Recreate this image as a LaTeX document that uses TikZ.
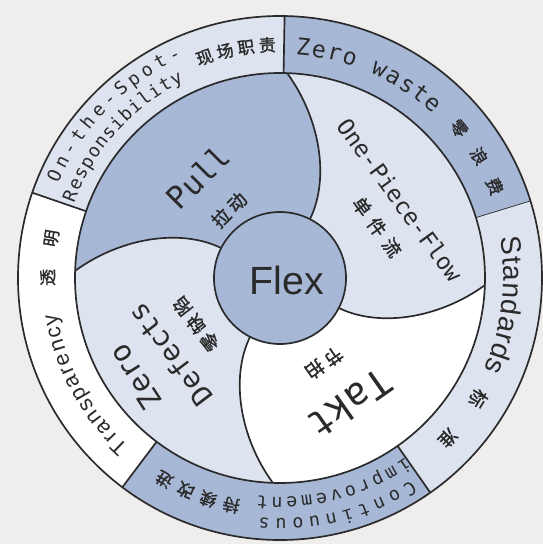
\documentclass[tikz,border=0pt]{standalone}
\usepackage{fontspec}
\setmainfont{Liberation Sans}
\newfontfamily\handfont{DejaVu Sans Mono}
\newfontfamily\cjk[FakeBold=1.5]{Noto Sans CJK SC}
\usepackage{tikz}
\usetikzlibrary{decorations.text}
\definecolor{midblue}{HTML}{A7B7D6}
\definecolor{paleblue}{HTML}{DDE3EF}
\definecolor{bggray}{HTML}{EFEEEC}
\definecolor{inkline}{HTML}{2A2A2A}
\newcommand{\setsz}[1]{\fontsize{#1}{#1}\selectfont}

\begin{document}
\begin{tikzpicture}[x=0.025cm, y=0.025cm,
  rim/.style={draw=inkline, line width=1.2pt},
  wtext/.style={text=inkline, inner sep=0pt},
  arctext/.style={decorate, decoration={text along path, text align={fit to path}, text color=inkline}}]
  \useasboundingbox (-280,-266) rectangle (263,278);
  \fill[bggray] (-280,-266) rectangle (263,278);
  % outer ring sectors
  \foreach \s/\col in {17/midblue, 89/paleblue, 161/white, 233/midblue, 305/paleblue}{
    \fill[\col] (\s:205) arc[start angle=\s, end angle=\s+72, radius=205]
      -- ({\s+72}:262) arc[start angle=\s+72, end angle=\s, radius=262] -- cycle;
    \draw[rim] (\s:205) -- (\s:262);
  }
  % pinwheel quadrants
  \foreach \a/\col in {0/midblue, 90/paleblue, 180/white, 270/paleblue}{
    \fill[\col] (0,0) -- ({\a+63}:66) .. controls ({\a+63.4}:111.8) and ({\a+76}:164.9) .. ({\a+88}:205)
      arc[start angle=\a+88, end angle=\a+178, radius=205]
      .. controls ({\a+166}:164.9) and ({\a+153.4}:111.8) .. ({\a+153}:66) -- cycle;
  }
  \foreach \a in {0,90,180,270}
    \draw[rim] ({\a+63}:66) .. controls ({\a+63.4}:111.8) and ({\a+76}:164.9) .. ({\a+88}:205);
  \draw[rim] (0,0) circle[radius=205];
  \draw[rim] (0,0) circle[radius=262];
  % hub
  \draw[rim, fill=midblue] (0,0) circle[radius=66];
  \node[wtext] (flex) at (7,-2) {\setsz{28}Flex};
  % inner labels
  \node[wtext, rotate=45] (pull) at (-82,101) {\handfont\setsz{22}Pull};
  \node[wtext, rotate=45] (pullcn) at (-51,68) {\cjk\setsz{13}拉\hspace{3pt}动};
  \node[wtext, rotate=-54] (flow) at (120,78) {\handfont\setsz{16.5}One-Piece-Flow};
  \node[wtext, rotate=-54] (flowcn) at (97,51) {\cjk\setsz{13}单\hspace{5pt}件\hspace{5pt}流};
  \node[wtext, rotate=-145] (takt) at (70,-126) {\handfont\setsz{27}Takt};
  \node[wtext, rotate=-145] (taktcn) at (44,-85) {\cjk\setsz{13}节\hspace{3pt}拍};
  \node[wtext, rotate=123] (zero) at (-145,-99) {\handfont\setsz{21}Zero};
  \node[wtext, rotate=127] (defects) at (-110,-77) {\handfont\setsz{20}Defects};
  \node[wtext, rotate=128] (defectscn) at (-84,-46) {\cjk\setsz{13}零\hspace{3pt}缺\hspace{3pt}陷};
  % ring labels
  \path[arctext, decoration={text={|\handfont\setsz{13}|On-the-Spot-}}]
    (157:241) arc[start angle=157, end angle=114, radius=241];
  \path[arctext, decoration={text={|\handfont\setsz{13}|Responsibility}}]
    (160:219) arc[start angle=160, end angle=116, radius=219];
  \path[arctext, decoration={text={|\cjk\setsz{12}|现场职责}}]
    (111:227) arc[start angle=111, end angle=91, radius=227];
  \path[arctext, decoration={text={|\handfont\setsz{16.5}|Zero waste}}]
    (86:224) arc[start angle=86, end angle=47, radius=224];
  \path[arctext, decoration={text={|\cjk\setsz{12}|零浪费}}]
    (42:227) arc[start angle=42, end angle=21, radius=227];
  \path[arctext, decoration={text={|\setsz{20}|Standards}}]
    (10.4:223.5) arc[start angle=10.4, end angle=-24.3, radius=223.5];
  \path[arctext, decoration={text={|\cjk\setsz{13}|标准}}]
    (-29:225) arc[start angle=-29, end angle=-46, radius=225];
  \path[arctext, decoration={text={|\handfont\setsz{13}|Continuous}}]
    (-57:241) arc[start angle=-57, end angle=-95, radius=241];
  \path[arctext, decoration={text={|\handfont\setsz{13}|improvement}}]
    (-55:219) arc[start angle=-55, end angle=-96, radius=219];
  \path[arctext, decoration={text={|\cjk\setsz{12}|持续改进}}]
    (-100:226) arc[start angle=-100, end angle=-122, radius=226];
  \path[arctext, decoration={text={|\setsz{15.5}|Transparency}}]
    (228:226) arc[start angle=228, end angle=189, radius=226];
  \path[arctext, decoration={text={|\cjk\setsz{12}|透明}}]
    (182:226) arc[start angle=182, end angle=168, radius=226];
\end{tikzpicture}
\end{document}
